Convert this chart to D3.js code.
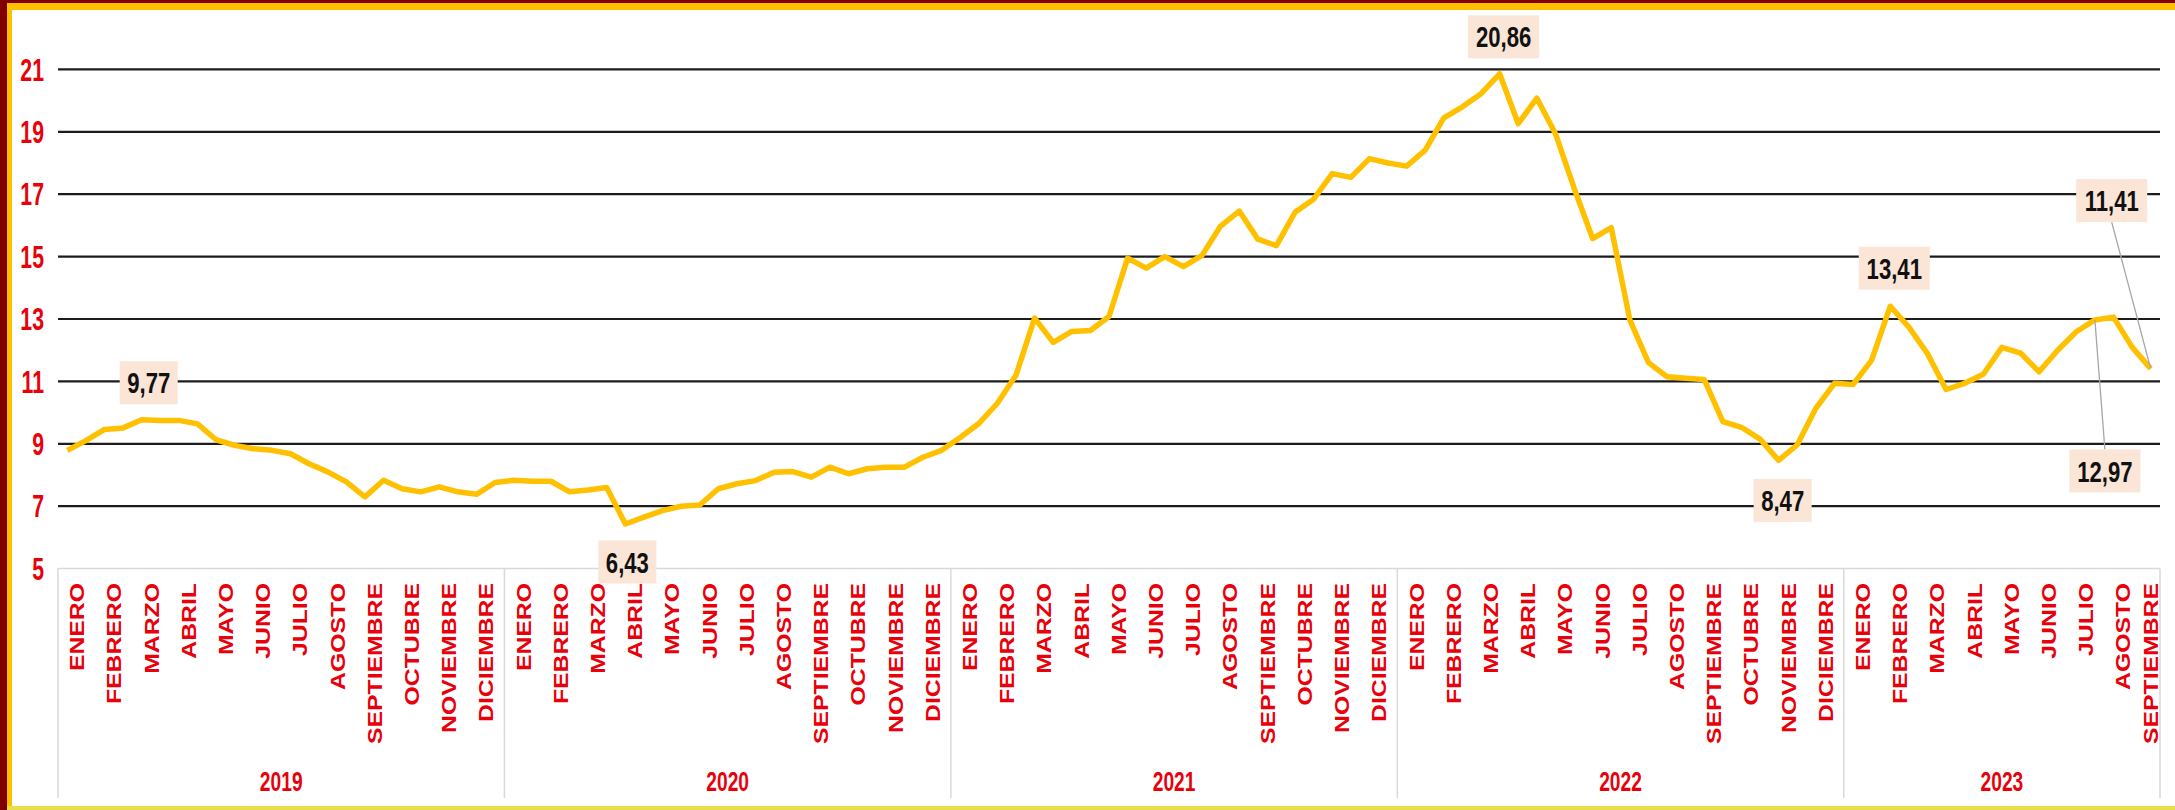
<!DOCTYPE html>
<html>
<head>
<meta charset="utf-8">
<script src="https://cdn.jsdelivr.net/npm/d3@7"></script>
<style>
  body { margin: 0; background: #fff; }
  svg { display: block; }
</style>
</head>
<body>
<div id="chart"></div>
<script>
let gold = "#FFC000";
let darkRed = "#800000";
let labelRed = "#E8000B";
let peach = "#FBE5D6";
let gridDark = "#1c1c1c";
let axisLight = "#D9D9D9";

// biweekly values, Jan 2019 -> first half of Sep 2023
const values2019 = [8.79, 9.1, 9.46, 9.51, 9.77, 9.75, 9.75, 9.64, 9.13, 8.95, 8.84, 8.79,
  8.68, 8.36, 8.1, 7.78, 7.3, 7.83, 7.56, 7.46, 7.62, 7.46, 7.38, 7.76];
const values2020 = [7.83, 7.8, 7.8, 7.46, 7.52, 7.6, 6.43, 6.65, 6.86, 7.0, 7.04, 7.56,
  7.72, 7.82, 8.09, 8.11, 7.93, 8.25, 8.04, 8.2, 8.25, 8.25, 8.57, 8.79];
const values2021 = [9.2, 9.65, 10.3, 11.2, 13.03, 12.25, 12.6, 12.63, 13.08, 14.95, 14.63, 15.0,
  14.68, 15.04, 15.98, 16.46, 15.56, 15.35, 16.42, 16.84, 17.66, 17.54, 18.14, 18.0];
const values2022 = [17.9, 18.41, 19.45, 19.8, 20.22, 20.86, 19.26, 20.08, 18.94, 17.2, 15.58, 15.93,
  12.97, 11.6, 11.15, 11.1, 11.06, 9.71, 9.53, 9.15, 8.47, 8.97, 10.14, 10.94];
const values2023 = [10.9, 11.68, 13.41, 12.74, 11.89, 10.74, 10.94, 11.23, 12.09, 11.91, 11.31, 12.0,
  12.59, 12.97, 13.06, 12.1, 11.41];

const years = ["2019", "2020", "2021", "2022", "2023"];
const yearValues = [values2019, values2020, values2021, values2022, values2023];
const monthNames = ["ENERO", "FEBRERO", "MARZO", "ABRIL", "MAYO", "JUNIO", "JULIO",
  "AGOSTO", "SEPTIEMBRE", "OCTUBRE", "NOVIEMBRE", "DICIEMBRE"];
const yTicks = [5, 7, 9, 11, 13, 15, 17, 19, 21];

// highlighted points: point index -> label text
const callouts = [
  { index: 4, text: "9,77" },
  { index: 30, text: "6,43" },
  { index: 77, text: "20,86" },
  { index: 92, text: "8,47" },
  { index: 98, text: "13,41" },
  { index: 109, text: "12,97" },
  { index: 112, text: "11,41" },
];

const width = 2175;
const height = 810;
const plot = { left: 58, right: 2160, top: 69.4, bottom: 568.6 };

// flatten into points, 2 per month
let points = [];
yearValues.forEach((vals, yi) => {
  vals.forEach((v, k) => {
    points.push({ year: years[yi], month: Math.floor(k / 2), value: v });
  });
});

const svg = d3.select("#chart").append("svg")
  .attr("width", width)
  .attr("height", height);

svg.append("rect").attr("width", width).attr("height", height).attr("fill", "#fff");

const x = d3.scaleBand()
  .domain(d3.range(points.length))
  .range([plot.left, plot.right])
  .padding(0);

const y = d3.scaleLinear().domain([5, 21]).range([plot.bottom, plot.top]);

const cx = (i) => x(i) + x.bandwidth() / 2;

//gridlines
svg.append("g")
  .selectAll("line")
  .data(yTicks.filter((t) => t > 5))
  .join("line")
  .attr("x1", plot.left)
  .attr("x2", plot.right)
  .attr("y1", (d) => y(d))
  .attr("y2", (d) => y(d))
  .attr("stroke", gridDark)
  .attr("stroke-width", 2.2);

// y labels (narrow bold look via scaling)
svg.append("g")
  .selectAll("g")
  .data(yTicks)
  .join("g")
  .attr("transform", (d) => `translate(44, ${y(d)}) scale(0.85, 1.24)`)
  .append("text")
  .attr("text-anchor", "end")
  .attr("dy", "0.36em")
  .style("font-family", "'Liberation Sans', Arial, sans-serif")
  .style("font-weight", "bold")
  .style("font-size", "25px")
  .style("fill", labelRed)
  .text((d) => d);

// category axis box
const axisG = svg.append("g");
axisG.append("line")
  .attr("x1", plot.left).attr("x2", plot.right)
  .attr("y1", plot.bottom).attr("y2", plot.bottom)
  .attr("stroke", axisLight).attr("stroke-width", 1.5);

let yearBounds = [];
let start = 0;
yearValues.forEach((vals, yi) => {
  yearBounds.push({ year: years[yi], start: start, end: start + vals.length });
  start += vals.length;
});

const sepX = [plot.left].concat(yearBounds.map((b) => x(b.end - 1) + x.bandwidth()));
axisG.selectAll(".sep")
  .data(sepX)
  .join("line")
  .attr("class", "sep")
  .attr("x1", (d) => d).attr("x2", (d) => d)
  .attr("y1", plot.bottom).attr("y2", 798)
  .attr("stroke", axisLight).attr("stroke-width", 1.5);

// month labels
let monthLabels = [];
yearBounds.forEach((b) => {
  const grouped = d3.groups(points.slice(b.start, b.end).map((p, k) => ({ ...p, idx: b.start + k })), (p) => p.month);
  grouped.forEach(([m, pts]) => {
    const first = pts[0].idx;
    const last = pts[pts.length - 1].idx;
    monthLabels.push({ name: monthNames[m], x: (x(first) + x(last) + x.bandwidth()) / 2 });
  });
});

axisG.selectAll(".month")
  .data(monthLabels)
  .join("g")
  .attr("class", "month")
  .attr("transform", (d) => `translate(${d.x}, 583) rotate(-90) scale(1.18, 1)`)
  .append("text")
  .attr("text-anchor", "end")
  .attr("dy", "0.36em")
  .style("font-family", "'Liberation Sans', Arial, sans-serif")
  .style("font-weight", "bold")
  .style("font-size", "21px")
  .style("fill", labelRed)
  .text((d) => d.name);

axisG.selectAll(".year")
  .data(yearBounds)
  .join("g")
  .attr("class", "year")
  .attr("transform", (d) => `translate(${(x(d.start) + x(d.end - 1) + x.bandwidth()) / 2}, 781) scale(0.8, 1.15)`)
  .append("text")
  .attr("text-anchor", "middle")
  .attr("dy", "0.36em")
  .style("font-family", "'Liberation Sans', Arial, sans-serif")
  .style("font-weight", "bold")
  .style("font-size", "24px")
  .style("fill", labelRed)
  .text((d) => d.year);

//LINE
const line = d3.line()
  .x((d, i) => cx(i))
  .y((d) => y(d.value));

svg.append("path")
  .datum(points)
  .attr("d", line)
  .attr("fill", "none")
  .attr("stroke", gold)
  .attr("stroke-width", 5.5)
  .attr("stroke-linejoin", "round");

// callout placement relative to the point
const calloutOffset = {
  4: [7, -37],
  30: [2, 38],
  77: [4, -37],
  92: [4, 40],
  98: [4, -38],
  109: [10, 151],
  112: [-39, -168],
};

const calloutG = svg.append("g");

callouts.forEach((c) => {
  const px = cx(c.index);
  const py = y(points[c.index].value);
  const [dx, dy] = calloutOffset[c.index];
  const lx = px + dx;
  const ly = py + dy;
  const boxW = c.text.length > 4 ? 71 : 58;
  const boxH = 43;

  // leader line for labels placed far from their point
  if (Math.abs(dy) > 60) {
    const edgeY = dy > 0 ? ly - boxH / 2 : ly + boxH / 2;
    calloutG.append("line")
      .attr("x1", lx).attr("y1", edgeY)
      .attr("x2", px).attr("y2", py)
      .attr("stroke", "#A6A6A6")
      .attr("stroke-width", 1.3);
  }

  calloutG.append("rect")
    .attr("x", lx - boxW / 2)
    .attr("y", ly - boxH / 2)
    .attr("width", boxW)
    .attr("height", boxH)
    .attr("fill", peach);

  calloutG.append("g")
    .attr("transform", `translate(${lx}, ${ly}) scale(0.79, 1.05)`)
    .append("text")
    .attr("text-anchor", "middle")
    .attr("dy", "0.36em")
    .style("font-family", "'Liberation Sans', Arial, sans-serif")
    .style("font-weight", "bold")
    .style("font-size", "28px")
    .style("fill", "#111")
    .text(c.text);
});

// frame
svg.append("rect").attr("x", 0).attr("y", 0).attr("width", width).attr("height", 3).attr("fill", darkRed);
svg.append("rect").attr("x", 7).attr("y", 3).attr("width", width - 7).attr("height", 7).attr("fill", gold);
svg.append("rect").attr("x", 7).attr("y", 3).attr("width", 5).attr("height", height - 3).attr("fill", gold);
svg.append("rect").attr("x", 0).attr("y", 0).attr("width", 7).attr("height", height).attr("fill", darkRed);
svg.append("rect").attr("x", 7).attr("y", height - 4).attr("width", width - 7).attr("height", 4).attr("fill", "#E8DE4A");
</script>
</body>
</html>
